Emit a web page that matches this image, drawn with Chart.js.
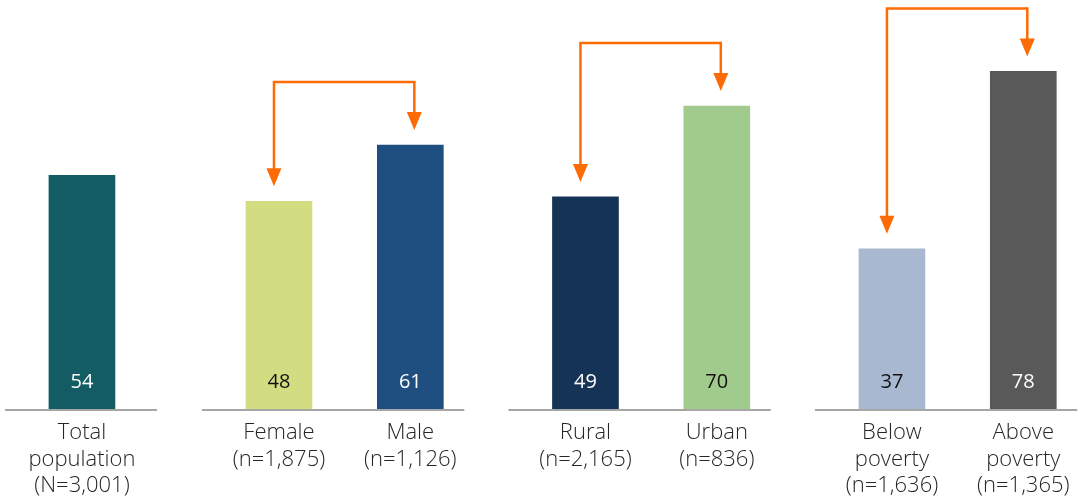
<!DOCTYPE html>
<html>
<head>
<meta charset="utf-8">
<script src="https://cdn.jsdelivr.net/npm/chart.js@4/dist/chart.umd.min.js"></script>
<style>
  html, body { margin: 0; padding: 0; background: #ffffff; }
  #wrap { position: relative; width: 1081px; height: 499px; }
</style>
</head>
<body>
<div id="wrap"><canvas id="chart"></canvas></div>
<script>
// Category labels (multi-line), values and bar colours
const categories = [
  ['Total', 'population', '(N=3,001)'],
  ['Female', '(n=1,875)'],
  ['Male', '(n=1,126)'],
  ['Rural', '(n=2,165)'],
  ['Urban', '(n=836)'],
  ['Below', 'poverty', '(n=1,636)'],
  ['Above', 'poverty', '(n=1,365)']
];
const values = [54, 48, 61, 49, 70, 37, 78];
const barColors = ['#145c63', '#d2dd82', '#1f4e80', '#153356', '#a0cb8c', '#a7b8d0', '#595959'];
const valueLabelColors = ['#ffffff', '#111111', '#ffffff', '#ffffff', '#111111', '#111111', '#ffffff'];
// Bars that belong together (each group gets its own baseline segment)
const groups = [[0], [1, 2], [3, 4], [5, 6]];
// Pairs compared by an arrow
const comparisons = [[1, 2], [3, 4], [5, 6]];

// Build the category axis with empty slots between bars and groups
const SLOTS_IN_PAIR = 6, SLOTS_FIRST_GAP = 9, SLOTS_GROUP_GAP = 8;
const labels = [], data = [], colors = [], slotOf = [];
groups.forEach((g, gi) => {
  if (gi > 0) {
    const gap = gi === 1 ? SLOTS_FIRST_GAP : SLOTS_GROUP_GAP;
    for (let k = 1; k < gap; k++) { labels.push(''); data.push(null); colors.push('rgba(0,0,0,0)'); }
  }
  g.forEach((idx, j) => {
    if (j > 0) {
      for (let k = 1; k < SLOTS_IN_PAIR; k++) { labels.push(''); data.push(null); colors.push('rgba(0,0,0,0)'); }
    }
    slotOf[idx] = labels.length;
    labels.push(categories[idx]);
    data.push(values[idx]);
    colors.push(barColors[idx]);
  });
});

const FONT = '"Open Sans", "Noto Sans", sans-serif';

const overlay = {
  id: 'overlay',
  afterDatasetsDraw(chart) {
    const ctx = chart.ctx;
    const meta = chart.getDatasetMeta(0);
    const base = chart.scales.y.getPixelForValue(0);
    const bar = i => meta.data[slotOf[i]];

    // Baseline segments under each group
    ctx.save();
    ctx.strokeStyle = '#a6a6a6';
    ctx.lineWidth = 2;
    groups.forEach(g => {
      const first = bar(g[0]).x, last = bar(g[g.length - 1]).x;
      const left = first - 77;
      const right = g.length === 1 ? last + 75 : last + 54;
      ctx.beginPath();
      ctx.moveTo(left, base + 1);
      ctx.lineTo(right, base + 1);
      ctx.stroke();
    });
    ctx.restore();

    // Value labels inside the bars
    ctx.save();
    ctx.font = '400 20px ' + FONT;
    ctx.textAlign = 'center';
    ctx.textBaseline = 'middle';
    values.forEach((v, i) => {
      ctx.fillStyle = valueLabelColors[i];
      ctx.fillText(String(v), bar(i).x, base - 27);
    });
    ctx.restore();

    // Comparison arrows
    ctx.save();
    const orange = '#fd6b05';
    ctx.strokeStyle = orange;
    ctx.fillStyle = orange;
    ctx.lineWidth = 2.5;
    ctx.lineJoin = 'miter';
    comparisons.forEach(([a, b]) => {
      const ea = bar(a), eb = bar(b);
      const xa = ea.x - 5, xb = eb.x + 4;
      const tipA = ea.y - 15, tipB = eb.y - 15;
      const top = Math.min(ea.y, eb.y) - 63;
      const headH = 18, headW = 7.5;
      ctx.beginPath();
      ctx.moveTo(xa, tipA - headH + 1);
      ctx.lineTo(xa, top);
      ctx.lineTo(xb, top);
      ctx.lineTo(xb, tipB - headH + 1);
      ctx.stroke();
      [[xa, tipA], [xb, tipB]].forEach(([x, y]) => {
        ctx.beginPath();
        ctx.moveTo(x - headW, y - headH);
        ctx.lineTo(x + headW, y - headH);
        ctx.lineTo(x, y);
        ctx.closePath();
        ctx.fill();
      });
    });
    ctx.restore();
  }
};

new Chart(document.getElementById('chart'), {
  type: 'bar',
  data: {
    labels: labels,
    datasets: [{
      data: data,
      backgroundColor: colors,
      barThickness: 66,
      borderWidth: 0,
      clip: false
    }]
  },
  options: {
    responsive: true,
    maintainAspectRatio: false,
    animation: false,
    layout: { padding: { left: 71, right: 42, top: 0, bottom: 0 } },
    plugins: { legend: { display: false }, tooltip: { enabled: false } },
    scales: {
      x: {
        grid: { display: false, drawTicks: false },
        border: { display: false },
        afterFit(scale) { scale.height = 90; },
        ticks: {
          autoSkip: false,
          maxRotation: 0,
          minRotation: 0,
          padding: 11,
          color: '#262626',
          font: { family: FONT, size: 22, weight: '300', lineHeight: 1.2 }
        }
      },
      y: {
        display: false,
        min: 0,
        max: 94.5
      }
    }
  },
  plugins: [overlay]
});
</script>
</body>
</html>
